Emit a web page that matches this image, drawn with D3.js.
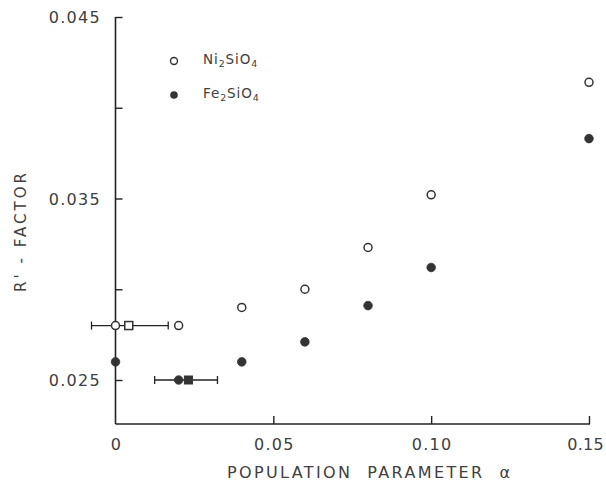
<!DOCTYPE html>
<html>
<head>
<meta charset="utf-8">
<script src="https://cdn.jsdelivr.net/npm/d3@7"></script>
<style>
  body { margin: 0; background: #fff; }
  svg { display: block; }
  text { font-family: "DejaVu Sans", "Liberation Sans", sans-serif; fill: #404040; }
</style>
</head>
<body>
<div id="chart"></div>
<script>
// population parameter values
var alpha = [0, 0.02, 0.04, 0.06, 0.08, 0.10, 0.15];
// R' factor, open circles
var niR = [0.0280, 0.0280, 0.0290, 0.0300, 0.0323, 0.0352, 0.0414];
// R' factor, filled circles
var feR = [0.0260, 0.0250, 0.0260, 0.0271, 0.0291, 0.0312, 0.0383];

// fitted alpha (squares) with horizontal error bars: [alpha, low, high, R']
var niFit = [0.0042, -0.0076, 0.0167, 0.0280];
var feFit = [0.0231, 0.0124, 0.0323, 0.0250];

var xTicks = [0, 0.05, 0.10, 0.15];
var xTickLabels = ["0", "0.05", "0.10", "0.15"];
var yTicks = [0.025, 0.030, 0.035, 0.040, 0.045];
var yTickLabels = ["0.025", "", "0.035", "", "0.045"];

var width = 606, height = 486;
var svg = d3.select("#chart").append("svg")
    .attr("width", width)
    .attr("height", height);

var x = d3.scaleLinear().domain([0, 0.15]).range([115.5, 589]);
var y = d3.scaleLinear().domain([0.025, 0.045]).range([380, 17]);
var yBottom = 424;

var ink = "#222";

// axes lines
svg.append("line")
    .attr("x1", x(0)).attr("x2", x(0))
    .attr("y1", y(0.045)).attr("y2", yBottom)
    .attr("stroke", ink).attr("stroke-width", 1.6);
svg.append("line")
    .attr("x1", x(0)).attr("x2", x(0.15) + 1)
    .attr("y1", yBottom).attr("y2", yBottom)
    .attr("stroke", ink).attr("stroke-width", 1.6);

// y ticks point into the plot
var yAxis = d3.axisRight(y)
    .tickValues(yTicks)
    .tickSize(7)
    .tickFormat("");
var gy = svg.append("g")
    .attr("transform", "translate(" + x(0) + ",0)")
    .call(yAxis);
gy.select(".domain").remove();
gy.selectAll(".tick line").attr("stroke", ink).attr("stroke-width", 1.4);

svg.selectAll(".ylab")
    .data(yTicks)
    .enter().append("text")
    .attr("class", "ylab")
    .attr("x", 101)
    .attr("y", function(d) { return y(d) + 6; })
    .attr("text-anchor", "end")
    .style("font-size", "16px")
    .style("letter-spacing", "1.3px")
    .text(function(d, i) { return yTickLabels[i]; });

// x ticks point up
var xAxis = d3.axisTop(x)
    .tickValues(xTicks.slice(1))
    .tickSize(8)
    .tickFormat("");
var gx = svg.append("g")
    .attr("transform", "translate(0," + yBottom + ")")
    .call(xAxis);
gx.select(".domain").remove();
gx.selectAll(".tick line").attr("stroke", ink).attr("stroke-width", 1.4);

// last label sits against the right edge, as in the original
svg.selectAll(".xlab")
    .data(xTicks)
    .enter().append("text")
    .attr("class", "xlab")
    .attr("x", function(d, i) { return i == xTicks.length - 1 ? width - 2 : x(d) + 1; })
    .attr("y", 450)
    .attr("text-anchor", function(d, i) { return i == xTicks.length - 1 ? "end" : "middle"; })
    .style("font-size", "16px")
    .style("letter-spacing", function(d, i) { return i == xTicks.length - 1 ? "0.3px" : "1.3px"; })
    .text(function(d, i) { return xTickLabels[i]; });

// axis titles
svg.append("text")
    .attr("x", 227)
    .attr("y", 478)
    .attr("textLength", 283)
    .attr("lengthAdjust", "spacing")
    .style("font-size", "16px")
    .style("white-space", "pre")
    .text("POPULATION  PARAMETER  α");

svg.append("text")
    .attr("transform", "translate(26,292) rotate(-90)")
    .attr("textLength", 119)
    .attr("lengthAdjust", "spacing")
    .style("font-size", "15px")
    .style("white-space", "pre")
    .text("R' - FACTOR");

// error bars
function errorBar(fit) {
    var g = svg.append("g");
    g.append("line")
        .attr("x1", x(fit[1])).attr("x2", x(fit[2]))
        .attr("y1", y(fit[3])).attr("y2", y(fit[3]))
        .attr("stroke", ink).attr("stroke-width", 1.3);
    [fit[1], fit[2]].forEach(function(v) {
        g.append("line")
            .attr("x1", x(v)).attr("x2", x(v))
            .attr("y1", y(fit[3]) - 4).attr("y2", y(fit[3]) + 4)
            .attr("stroke", ink).attr("stroke-width", 1.3);
    });
    return g;
}
var niBar = errorBar(niFit);
var feBar = errorBar(feFit);

// data points
svg.selectAll(".ni")
    .data(alpha)
    .enter().append("circle")
    .attr("class", "ni")
    .attr("cx", function(d) { return x(d); })
    .attr("cy", function(d, i) { return y(niR[i]); })
    .attr("r", 4)
    .attr("fill", "#fff")
    .attr("stroke", "#333")
    .attr("stroke-width", 1.5);

svg.selectAll(".fe")
    .data(alpha)
    .enter().append("circle")
    .attr("class", "fe")
    .attr("cx", function(d) { return x(d); })
    .attr("cy", function(d, i) { return y(feR[i]); })
    .attr("r", 4.3)
    .attr("fill", "#333")
    .attr("stroke", "#333")
    .attr("stroke-width", 0.8);

// squares for the fitted values
niBar.append("rect")
    .attr("x", x(niFit[0]) - 4).attr("y", y(niFit[3]) - 4)
    .attr("width", 8).attr("height", 8)
    .attr("fill", "#fff").attr("stroke", "#333").attr("stroke-width", 1.5);
feBar.append("rect")
    .attr("x", x(feFit[0]) - 4).attr("y", y(feFit[3]) - 4)
    .attr("width", 8).attr("height", 8)
    .attr("fill", "#333").attr("stroke", "#333").attr("stroke-width", 1);

// legend
var legend = svg.append("g");
legend.append("circle")
    .attr("cx", 174).attr("cy", 61).attr("r", 3.5)
    .attr("fill", "#fff").attr("stroke", "#333").attr("stroke-width", 1.4);
legend.append("circle")
    .attr("cx", 174).attr("cy", 95).attr("r", 3.8)
    .attr("fill", "#333");

function formula(yy, parts) {
    var txt = legend.append("text")
        .attr("x", 203).attr("y", yy)
        .style("font-size", "13.5px")
        .style("letter-spacing", "0.9px");
    parts.forEach(function(p) {
        var ts = txt.append("tspan").text(p[0]);
        if (p[1]) {
            ts.attr("dy", 3).style("font-size", "9.5px");
        } else {
            ts.attr("dy", p[2] || 0);
        }
    });
}
formula(64, [["Ni", false], ["2", true], ["SiO", false, -3], ["4", true]]);
formula(98, [["Fe", false], ["2", true], ["SiO", false, -3], ["4", true]]);
</script>
</body>
</html>
